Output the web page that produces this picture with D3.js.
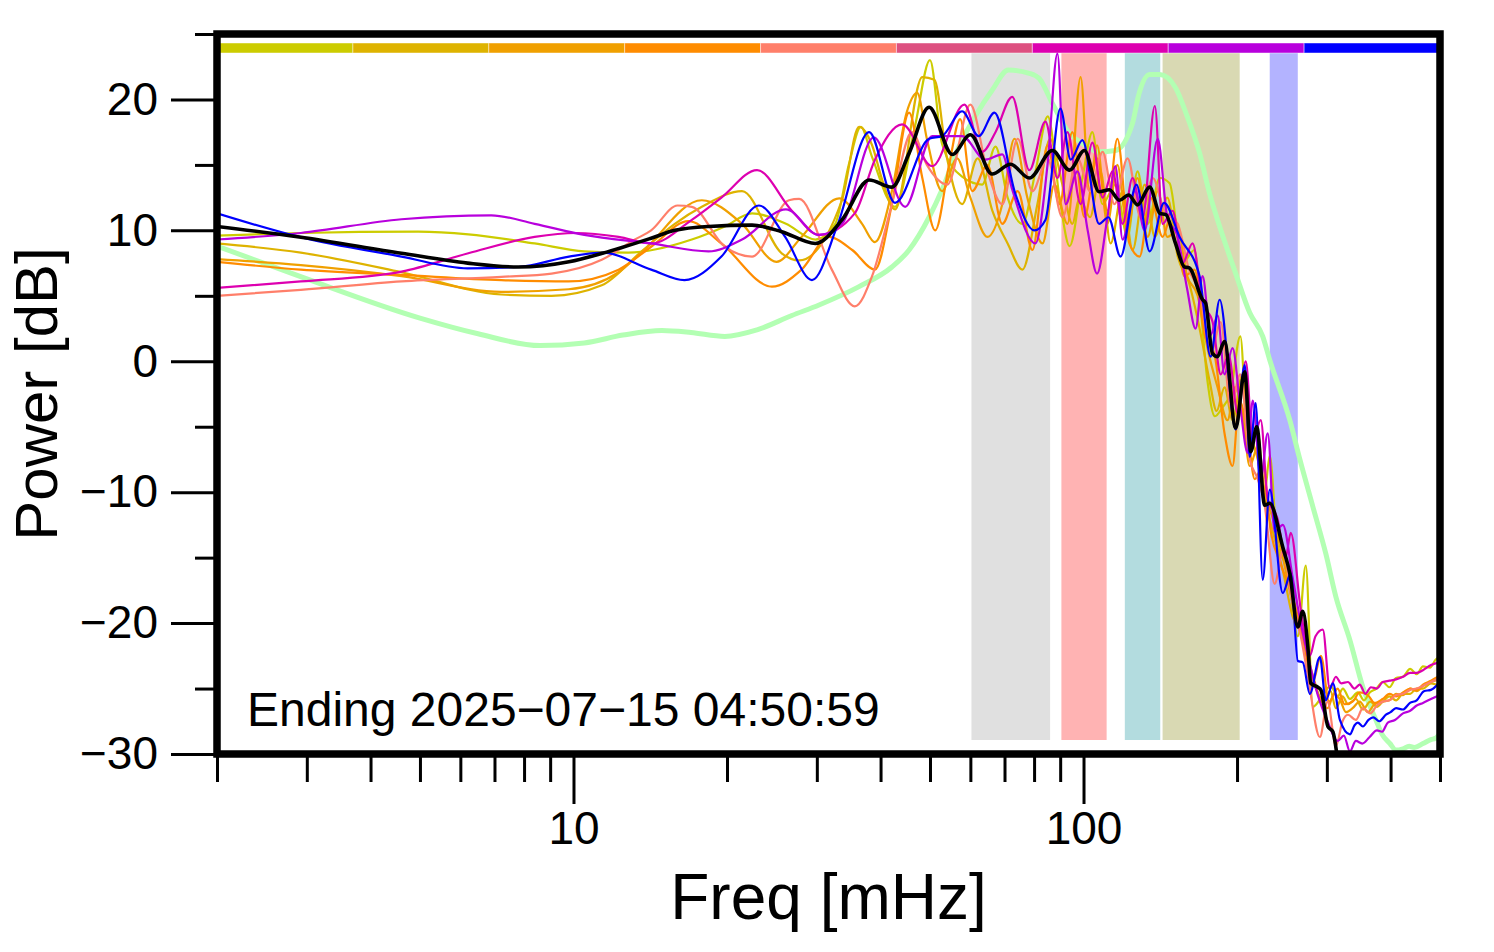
<!DOCTYPE html>
<html><head><meta charset="utf-8">
<script src="https://cdn.jsdelivr.net/npm/d3@7"></script>
<style>body{margin:0;background:#fff}text{font-family:"Liberation Sans",Arial,Helvetica,sans-serif}</style>
</head><body><svg id="c" width="1494" height="952"></svg>
<script>
// ---------------- data ----------------
const xMajorTicks = [10, 100];
const xMinorTicks = [2,3,4,5,6,7,8,9,20,30,40,50,60,70,80,90,200,300,400,500];
const yMajorTicks = [-30,-20,-10,0,10,20];
const yMinorTicks = [-25,-15,-5,5,15,25];
const xLabel = "Freq [mHz]";
const yLabel = "Power [dB]";
const caption = "Ending 2025\u221207\u221215 04:50:59";
const barColors = ["#cccc00","#deb300","#f0a000","#ff8c00","#ff7f6a","#dd5080","#dd00b0","#b800dd","#0000ff"];
const bandRanges = [[60.3,86],[90.5,111],[120.5,141.4],[142.9,202.4],[231.8,263.1]];
const bandColors = ["#e0e0e0","#ffb3b3","#b3dcdf","#d9d9b3","#b3b3ff"];

const sOlive = [[2,9.6],[2.92,9.8],[4.96,9.9],[6.22,9.7],[8.39,9.0],[10.5,8.4],[12.8,8.3],[17.06,9.3],[19.8,10.3],[22.4,11.3],[26.1,10.5],[29.8,9.3],[32.6,10.5],[34.7,15.1],[36.6,17.9],[38.5,15.6],[42.7,11.8],[46.7,17.9],[50.0,23.0],[52.8,16.6],[57.8,14.1],[63.3,13.5],[67.2,16.4],[71,12.5],[75.9,10.5],[80.5,14.5],[85.1,18.7],[90.1,12.0],[93.9,8.8],[99.5,14.0],[104.1,17.5],[108.9,12.0],[115.5,13.5],[122,9.5],[127.6,14.5],[133.6,10.5],[141.1,14.0],[147.5,13.6],[156.4,7.5],[165,8.5],[168.9,5.0],[175,-1.5],[181,-4.2],[187.4,-3.5],[194,-2.5],[203,1.9],[210,-6],[219.6,-5.5],[226.6,-10],[231.8,-7.2],[240,-14],[251.5,-16],[263.2,-21],[272.8,-15.6],[281.6,-26.4],[294.6,-25.5],[305,-24.8],[315,-25.6],[322.5,-25.0],[333,-25.8],[345,-25.3],[355,-25.9],[364,-25.3],[375,-25.0],[386,-24.5],[398,-24.9],[410,-24.2],[423,-24.1],[437,-23.5],[450,-23.9],[463,-23.3],[478,-23.4],[490,-22.8],[500,-22.6]];
const sGold = [[2,9.0],[2.92,8.3],[4.6,6.8],[7.22,5.1],[9.06,5.0],[11.36,5.8],[13.6,8.4],[15.8,10.5],[17.85,11.8],[21.4,13.0],[25.6,8.25],[27.7,7.7],[33.6,12.3],[36.3,17.9],[38.5,16.5],[40.3,13.85],[42.7,11.6],[48.3,21.7],[51,21.5],[54,15.5],[57.8,12.0],[62,15.5],[66.25,11.5],[71,9.0],[75.9,7.0],[81.2,12.0],[86,17.0],[90.9,13.5],[95.1,10.5],[98.2,12.5],[103,11.0],[108,14.5],[113,9.0],[119.3,13.0],[124.8,8.5],[131.8,13.5],[138,9.5],[146,12.5],[153,8.0],[161,6.0],[168.9,2.5],[176.7,-1.5],[182.4,-3.8],[189,-2.0],[196,-4.5],[205,-1.0],[212.8,-5.5],[219.6,-7.5],[226.6,-10.5],[235,-13.0],[246,-16.0],[257,-19.5],[269,-21.0],[281.6,-24.0],[294.6,-26.0],[305,-25.2],[312.5,-26.5],[322,-25.6],[330,-26.2],[342,-25.8],[353,-26.6],[365,-26.0],[376,-26.4],[386,-26.0],[398,-25.6],[410,-25.9],[423,-25.4],[437,-25.4],[450,-25.0],[463,-25.0],[480,-24.6],[500,-24.8]];
const sOrange = [[2,7.8],[2.92,7.35],[4.6,6.5],[7.22,5.3],[9.78,5.5],[12.26,6.8],[13.6,8.3],[17.85,12.3],[21.4,10.5],[25,7.6],[28,9.5],[33.2,12.45],[36.8,10.5],[39,9.1],[42.1,13.0],[45,19.0],[47.2,20.5],[49.3,17.0],[52.8,13.0],[56.5,15.5],[60,12.5],[64.8,9.5],[69.3,12.0],[73.2,17.0],[77.6,12.5],[83.1,9.0],[87.7,13.5],[93,10.5],[98.7,21.7],[102.7,13.0],[106.3,16.5],[111.4,10.5],[116.5,15.0],[122,10.0],[127.6,14.0],[133.6,9.5],[139.8,13.0],[146,9.5],[153,10.0],[159.7,6.5],[167.4,5.0],[175,1.0],[183.2,-2.0],[191.6,-4.5],[198,-2.0],[205,-4.0],[211.8,-8.0],[219.6,-6.5],[226.6,-10.0],[235,-12.0],[246,-15.0],[257,-18.5],[266.7,-20.5],[277.8,-23.5],[289,-25.5],[301,-26.5],[310,-25.4],[318,-25.8],[327,-26.8],[337,-26.5],[348,-26.0],[361,-26.8],[372,-26.2],[386,-26.0],[398,-25.9],[410,-25.4],[423,-25.5],[437,-25.0],[450,-25.2],[463,-24.8],[480,-24.5],[500,-24.3]];
const sDark = [[2,7.6],[2.92,7.0],[4.6,6.6],[7.22,6.2],[9.78,6.1],[12.26,7.0],[14.2,8.75],[16.8,10.7],[19.5,9.0],[24.5,5.7],[28,7.0],[31.7,9.5],[35.2,8.5],[39,7.0],[42.1,12.0],[45.5,19.0],[48.3,14.0],[51.2,10.0],[54.5,15.0],[57.3,18.5],[60.5,13.0],[64.8,15.0],[69.3,10.5],[74.3,13.0],[79.4,8.5],[85,16.5],[89.7,12.0],[95.1,17.5],[100.4,11.0],[106.3,15.5],[111.4,11.5],[116.5,17.0],[123,9.0],[128.8,8.0],[135.4,12.5],[142.9,9.5],[149.5,11.5],[157.8,6.5],[165,7.0],[172.8,2.0],[180.7,0.5],[189,-5.5],[196,-8.0],[202,-3.0],[209.8,-5.5],[216.6,-9.0],[224.6,-8.0],[232.9,-13.0],[243.6,-15.5],[257,-18.0],[269,-21.0],[281.6,-24.5],[292,-22.5],[303,-26.0],[315,-25.0],[325,-26.2],[337,-26.0],[348,-25.3],[361,-25.5],[372,-26.1],[386,-25.8],[398,-25.4],[410,-25.6],[423,-25.3],[437,-25.0],[450,-25.1],[463,-24.7],[480,-24.4],[500,-24.0]];
const sSalmon = [[2,5.0],[2.92,5.45],[4.6,6.1],[7.22,6.45],[9.06,6.7],[11.36,7.75],[13.2,9.3],[14.2,10.0],[16.0,11.9],[17.06,11.8],[19.8,8.75],[22.4,8.0],[26.45,12.3],[27.7,12.4],[32.1,7.0],[35.6,4.2],[38.5,6.5],[42.1,12.0],[46.1,17.5],[49.3,15.0],[54.1,13.5],[60,19.6],[64.8,14.5],[69.3,12.0],[74.3,17.0],[79.4,13.0],[85,15.5],[90.9,11.0],[97.3,15.5],[103,13.0],[109,16.0],[115,12.0],[122,15.5],[129.4,11.0],[136.7,14.0],[144,11.5],[153,10.5],[161,7.0],[169.6,5.0],[177.5,0.5],[185.8,3.0],[194.3,-3.5],[203,-1.0],[211.8,-7.5],[219.6,-9.0],[226.6,-11.0],[237,-17.0],[246,-14.5],[257,-18.5],[266.7,-21.0],[275.3,-24.0],[290.7,-28.7],[301,-26.0],[312.5,-29.4],[322,-27.5],[330,-27.0],[342,-27.4],[353,-26.5],[365,-26.9],[376,-26.3],[386,-26.0],[398,-25.9],[410,-25.5],[423,-25.4],[437,-25.1],[450,-25.0],[463,-24.8],[480,-24.5],[500,-24.2]];
const sMagenta = [[2,5.6],[2.92,6.1],[4.6,6.85],[6.22,8.25],[8.39,9.5],[10.1,9.8],[12.26,9.5],[14.2,9.0],[17.06,10.8],[19.5,12.5],[22.9,14.6],[26.8,11.5],[30.3,9.65],[35.6,11.3],[39,15.4],[44.1,18.1],[50.5,14.9],[58.4,19.6],[63.3,16.0],[67.2,17.5],[72.5,20.2],[78.3,14.6],[84.2,18.3],[88.9,14.0],[93,17.5],[98.7,12.0],[104.1,16.7],[109,12.5],[114,14.5],[119.3,10.5],[124.8,14.0],[130.6,11.0],[138,19.5],[142.9,10.5],[149.5,11.5],[156.4,7.5],[163.6,9.0],[171.2,4.5],[179.1,3.0],[185.8,-1.0],[192.5,0.5],[200.7,-4.0],[208,0.0],[214.7,-6.0],[222.6,-4.5],[229.7,-10.5],[240,-12.0],[249,-15.0],[254.9,-13.1],[266.7,-19.0],[277.8,-22.5],[285,-21.0],[294.6,-20.5],[304,-25.0],[312.5,-24.1],[320,-24.6],[330,-24.5],[340,-25.0],[348,-24.7],[357,-25.4],[366,-24.9],[376,-25.0],[386,-24.5],[398,-24.4],[410,-24.3],[423,-24.1],[437,-23.8],[450,-23.8],[463,-23.6],[480,-23.2],[500,-23.0]];
const sPurple = [[2,9.3],[2.92,9.8],[4.6,10.85],[6.9,11.15],[8.39,10.5],[10.5,9.65],[14.2,9.0],[18.4,8.4],[21.4,9.3],[26.1,11.6],[30.3,9.65],[33.6,10.5],[38.8,17.1],[44.7,11.8],[50.5,17.2],[57.8,17.2],[64.2,15.4],[69.3,15.8],[72.5,13.1],[80.5,9.0],[85,15.0],[88.9,23.5],[92.2,12.0],[97.3,14.5],[101.9,10.0],[106.3,6.7],[111.4,11.0],[115.5,14.9],[119.3,9.3],[126.1,13.0],[131.8,10.0],[139.8,17.0],[146,11.0],[153,9.5],[159.7,5.5],[165.9,2.5],[171.2,6.5],[177.5,2.0],[183.2,3.5],[189,-1.0],[196,1.0],[203,-3.5],[209.8,-7.0],[214.7,-3.0],[222.6,-9.0],[229.7,-5.5],[237,-13.0],[246,-12.5],[257,-16.5],[266.7,-20.0],[275.3,-22.5],[288,-25.5],[301,-27.5],[315,-29.0],[324,-28.6],[332.9,-29.8],[342,-29.0],[352,-29.2],[364,-28.7],[376,-28.2],[385,-28.3],[395,-27.6],[408,-27.4],[423,-26.9],[437,-26.7],[450,-26.3],[463,-26.1],[480,-25.8],[500,-25.5]];
const sBlue = [[2,11.3],[2.9,9.5],[4.6,8.0],[6.2,7.1],[7.8,7.2],[9.8,8.0],[11.4,8.3],[14.2,7.0],[16.5,6.2],[19.5,8.0],[23.1,11.9],[26,9.5],[29.35,6.2],[33,10.5],[38,17.5],[42.7,12.1],[49.8,17.0],[52.8,17.2],[57.8,19.1],[62.3,17.2],[66.9,19.0],[73.5,12.8],[80.1,10.0],[84.2,10.8],[90.1,19.3],[94.4,15.4],[99.5,16.9],[107.3,10.5],[111.9,11.0],[118.2,8.0],[127,13.5],[134.8,8.4],[143.9,12.1],[154.3,9.5],[168.9,6.5],[177.5,0.35],[184.9,4.7],[198.8,-5.2],[207.1,-0.3],[211.8,-7.3],[217.6,-3.2],[224.6,-16.7],[231.8,-9.8],[245.9,-17.7],[254.9,-16.2],[263.2,-22.9],[269.1,-23],[277.8,-25.4],[290.7,-22.6],[298.6,-25.9],[308.3,-24.6],[318.2,-27.4],[332.9,-28.5],[340,-27.8],[345,-27.6],[353,-27.9],[362,-27.4],[370,-27.2],[380,-27.5],[391.7,-27.0],[400,-26.8],[410,-26.5],[423,-26.6],[436.6,-26.1],[450,-25.9],[465,-25.2],[480,-25.1],[500,-24.5]];
const sMean = [[2,10.3],[2.9,9.5],[4.6,8.25],[6.2,7.5],[7.8,7.2],[9.8,7.6],[11.4,8.25],[14.2,9.4],[15.8,10.0],[18.4,10.3],[22.4,10.4],[25.6,9.9],[29.8,9.0],[33.6,10.8],[38,13.85],[42.1,13.3],[45.5,15.9],[49.8,19.4],[55.3,15.8],[60,17.3],[66.2,14.3],[71.9,15.05],[78.3,14.0],[86.9,16.1],[93.9,14.6],[100.4,16.1],[107.3,12.95],[112.4,13.1],[117.6,12.3],[122.6,12.7],[127.6,11.95],[134.8,13.3],[141.1,11.3],[145,11.2],[151.5,9.0],[157.8,7.2],[161,7.15],[171.2,4.7],[173.5,4.45],[179,0.6],[183,0.35],[189,1.5],[198.8,-5.1],[207,-0.8],[212.8,-6.9],[218.6,-5.0],[226.6,-11.0],[231.8,-10.85],[245.9,-14.2],[253.8,-16.2],[263.2,-20.3],[269.1,-19.1],[275.3,-21.8],[279,-24.6],[288,-24.9],[292,-25.1],[301.4,-27.9],[308.3,-28.3],[315.3,-30.5],[320,-32]];
const sReference = [[2,8.8],[2.9,6.5],[5.0,3.3],[6.5,2.1],[8.6,1.2],[10.5,1.4],[12.5,2.0],[14.9,2.35],[17,2.2],[19.8,1.9],[22.9,2.4],[26.8,3.5],[30.3,4.3],[36.3,5.7],[42.1,7.2],[45.5,8.5],[49.8,11.0],[52.8,13.1],[57,16.4],[61.5,18.8],[66.2,20.7],[71.2,22.25],[78.3,22.0],[81.9,21.6],[86.9,19.7],[93.9,17.4],[99.5,16.65],[107.3,16.0],[115.5,16.1],[124.8,18.2],[128,20.2],[134.8,21.9],[141.1,21.9],[151.5,20.9],[159.7,18.7],[168.9,15.9],[176.7,12.8],[184.9,10.3],[198.8,6.7],[211.8,3.7],[224.6,1.9],[231.8,0.1],[253.8,-4.5],[265.6,-7.5],[281.6,-11.1],[298.6,-14.7],[312.5,-18.0],[332.9,-21.3],[353,-24.9],[374.4,-27.4],[385,-28.5],[398.8,-29.2],[410,-29.7],[423,-29.6],[435,-29.4],[445,-29.5],[463,-29.2],[480,-28.9],[490,-28.8],[500,-28.4]];

const seriesList = [sOlive, sGold, sOrange, sDark, sSalmon, sMagenta, sPurple, sBlue];
const seriesColors = ["#cccc00","#deb300","#f0a000","#ff8c00","#ff7f6a","#dd00b0","#b800dd","#0000ff"];

// ---------------- layout ----------------
const L = 217, R = 1440, T = 34, B = 754;
const svg = d3.select("#c");
const x = d3.scaleLog().domain([2, 500]).range([L, R]);
const y = d3.scaleLinear().domain([-30, 25]).range([B, T]);

svg.append("defs").append("clipPath").attr("id","clip")
  .append("rect").attr("x",L).attr("y",T).attr("width",R-L).attr("height",B-T);

// shaded bands
svg.append("g").selectAll("rect").data(bandRanges).join("rect")
  .attr("x", d => x(d[0])).attr("width", d => x(d[1]) - x(d[0]))
  .attr("y", 53).attr("height", 740 - 53)
  .attr("fill", (d,i) => bandColors[i]);

// top colour bar
const segW = (R - L) / barColors.length;
svg.append("g").selectAll("rect").data(barColors).join("rect")
  .attr("x", (d,i) => L + i*segW).attr("width", segW)
  .attr("y", 43).attr("height", 10)
  .attr("fill", d => d).attr("stroke", "#fff").attr("stroke-opacity", 0.45).attr("stroke-width", 1);

const line = d3.line().x(d => x(d[0])).y(d => y(d[1])).curve(d3.curveMonotoneX);
const gLines = svg.append("g").attr("clip-path","url(#clip)");
gLines.append("path").datum(sReference).attr("d", line)
  .attr("fill","none").attr("stroke","#b3ffb3").attr("stroke-width",5).attr("stroke-linejoin","round");
seriesList.forEach((s,i) => {
  gLines.append("path").datum(s).attr("d", line)
    .attr("fill","none").attr("stroke", seriesColors[i]).attr("stroke-width",2.2).attr("stroke-linejoin","round");
});
gLines.append("path").datum(sMean).attr("d", line)
  .attr("fill","none").attr("stroke","#000").attr("stroke-width",3.6).attr("stroke-linejoin","round");

// axes
function styleAxis(g){
  g.select(".domain").remove();
  g.selectAll(".tick line").attr("stroke","#000").attr("stroke-width",3);
  g.selectAll(".tick text").attr("font-size",46).attr("fill","#000")
   .attr("font-family",'"Liberation Sans",Arial,sans-serif');
}
svg.append("g").attr("transform",`translate(${L},0)`)
  .call(d3.axisLeft(y).tickValues(yMinorTicks).tickSize(22).tickFormat(""))
  .call(styleAxis);
svg.append("g").attr("transform",`translate(${L},0)`)
  .call(d3.axisLeft(y).tickValues(yMajorTicks).tickSize(46).tickPadding(13)
        .tickFormat(d => d < 0 ? "\u2212" + Math.abs(d) : String(d)))
  .call(styleAxis);
svg.append("g").attr("transform",`translate(0,${B})`)
  .call(d3.axisBottom(x).tickValues(xMinorTicks).tickSize(28).tickFormat(""))
  .call(styleAxis);
svg.append("g").attr("transform",`translate(0,${B})`)
  .call(d3.axisBottom(x).tickValues(xMajorTicks).tickSize(50).tickPadding(7).tickFormat(d3.format("d")))
  .call(styleAxis);

// frame
svg.append("rect").attr("x",L).attr("y",T).attr("width",R-L).attr("height",B-T)
  .attr("fill","none").attr("stroke","#000").attr("stroke-width",7.5);

// labels
svg.append("text").attr("x",(L+R)/2).attr("y",919).attr("text-anchor","middle")
  .attr("font-size",64).text(xLabel);
svg.append("text").attr("transform",`translate(57,${(T+B)/2}) rotate(-90)`).attr("text-anchor","middle")
  .attr("font-size",60).text(yLabel);
svg.append("text").attr("x",247).attr("y",726).attr("font-size",48).text(caption);
</script></body></html>
